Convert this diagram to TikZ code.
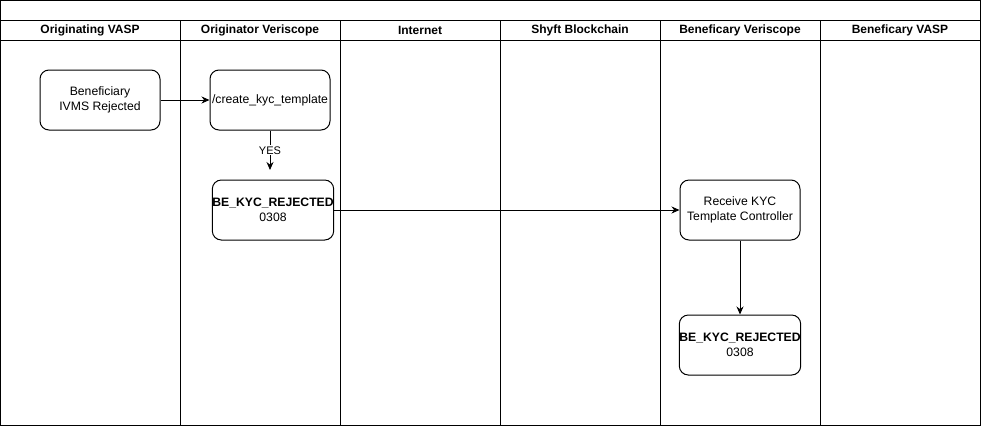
\documentclass[tikz,border=0pt]{standalone}
\usepackage{fontspec}
\setmainfont{Liberation Sans}
\usetikzlibrary{arrows.meta, positioning}
\tikzstyle{lanetitle} = [font=\fontsize{12}{14}\selectfont\bfseries, anchor=center]
\tikzstyle{process} = [rectangle, rounded corners=9pt, minimum width=120pt, minimum height=60pt, text centered, align=center, draw=black, fill=white, line width=1pt, inner sep=0pt, font=\fontsize{12.2}{15.5}\selectfont]
\tikzstyle{arrow} = [line width=1pt,-{Stealth[length=8pt,width=7pt]}]

\begin{document}
\begin{tikzpicture}[x=1pt, y=-1pt]
    \useasboundingbox (0,0) rectangle (981,426);

    % Pool frame and lanes
    \draw [line width=1pt] (0.5,0.5) rectangle (980.5,425.5);
    \draw [line width=1pt] (0.5,20) -- (980.5,20);
    \draw [line width=1pt] (0.5,40) -- (980.5,40);
    \foreach \x in {180,340,500,660,820}
        \draw [line width=1pt] (\x,20) -- (\x,425.5);

    % Lane titles
    \node (vasp1) [lanetitle] at (90,30) {Originating VASP};
    \node (veri1) [lanetitle] at (260,30) {Originator Veriscope};
    \node (net) [lanetitle] at (420,30) {Internet};
    \node (shyft) [lanetitle] at (580,30) {Shyft Blockchain};
    \node (veri2) [lanetitle] at (740,30) {Beneficary Veriscope};
    \node (vasp2) [lanetitle] at (900,30) {Beneficary VASP};

    % Steps
    \node (rejected) [process] at (100,100) {Beneficiary\\IVMS Rejected};
    \node (create) [process] at (270,100) {/create\_kyc\_template};
    \node (origcode) [process] at (273,210) {\textbf{BE\_KYC\_REJECTED}\\0308};
    \node (receive) [process] at (740,210) {Receive KYC\\Template Controller};
    \node (benecode) [process] at (740,345) {\textbf{BE\_KYC\_REJECTED}\\0308};
    \coordinate (yesend) at (270,170);

    % Flow
    \draw [arrow] (rejected) -- (create);
    \draw [arrow] (create.south) -- node[fill=white, inner sep=1pt, font=\fontsize{11}{13}\selectfont] {YES} (yesend);
    \draw [arrow] (origcode) -- (receive);
    \draw [arrow] (receive) -- (benecode);

\end{tikzpicture}
\end{document}
